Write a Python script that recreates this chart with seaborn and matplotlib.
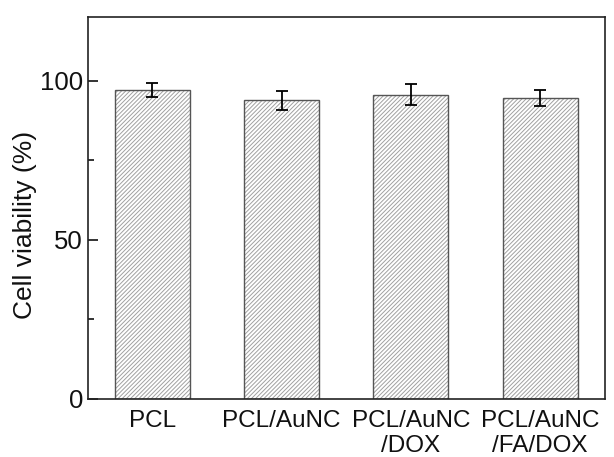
import matplotlib

matplotlib.use('Agg')
import matplotlib.pyplot as plt
import seaborn as sns
import pandas as pd
from matplotlib.colors import to_rgba
from matplotlib.ticker import MultipleLocator

sns.set_style('ticks')
plt.rcParams['font.family'] = ['Liberation Sans', 'DejaVu Sans']
plt.rcParams['hatch.linewidth'] = 0.7
plt.rcParams['text.color'] = '#111111'
plt.rcParams['axes.labelcolor'] = '#111111'
plt.rcParams['xtick.color'] = '#111111'
plt.rcParams['ytick.color'] = '#111111'

# data
groups = ['PCL', 'PCL/AuNC', 'PCL/AuNC\n/DOX', 'PCL/AuNC\n/FA/DOX']
viability = [97.0, 93.8, 95.6, 94.6]
err = [2.3, 3.0, 3.2, 2.5]

df = pd.DataFrame({'group': groups, 'viability': viability})

fig, ax = plt.subplots(figsize=(6.14, 4.57), dpi=100)
sns.barplot(data=df, x='group', y='viability', color='white', width=0.58,
            errorbar=None, edgecolor='#555555', linewidth=1.0, ax=ax)
for bar in ax.patches:
    bar.set_hatch('////////')
    # hatch follows edgecolor by default, want lighter lines inside
    bar._hatch_color = to_rgba('#a0a0a0')

ax.errorbar(range(len(groups)), viability, yerr=err, fmt='none',
            ecolor='black', elinewidth=1.3, capsize=4, capthick=1.3)

ax.set_ylim(0, 120)
ax.set_xlim(-0.5, 3.5)
ax.yaxis.set_major_locator(MultipleLocator(50))
ax.yaxis.set_minor_locator(MultipleLocator(25))
ax.tick_params(axis='y', which='major', direction='in', length=7, width=1.2, labelsize=18.5)
ax.tick_params(axis='y', which='minor', direction='in', length=4, width=1.2)
ax.tick_params(axis='x', length=0, labelsize=17.5, pad=8)
ax.set_xlabel('')
ax.set_ylabel('Cell viability (%)', fontsize=19)
ax.yaxis.set_label_coords(-0.098, 0.455)
for s in ax.spines.values():
    s.set_visible(True)
    s.set_linewidth(1.2)
    s.set_color('#222222')

plt.subplots_adjust(left=0.143, right=0.985, top=0.963, bottom=0.127)
plt.savefig('out.png', dpi=100)
